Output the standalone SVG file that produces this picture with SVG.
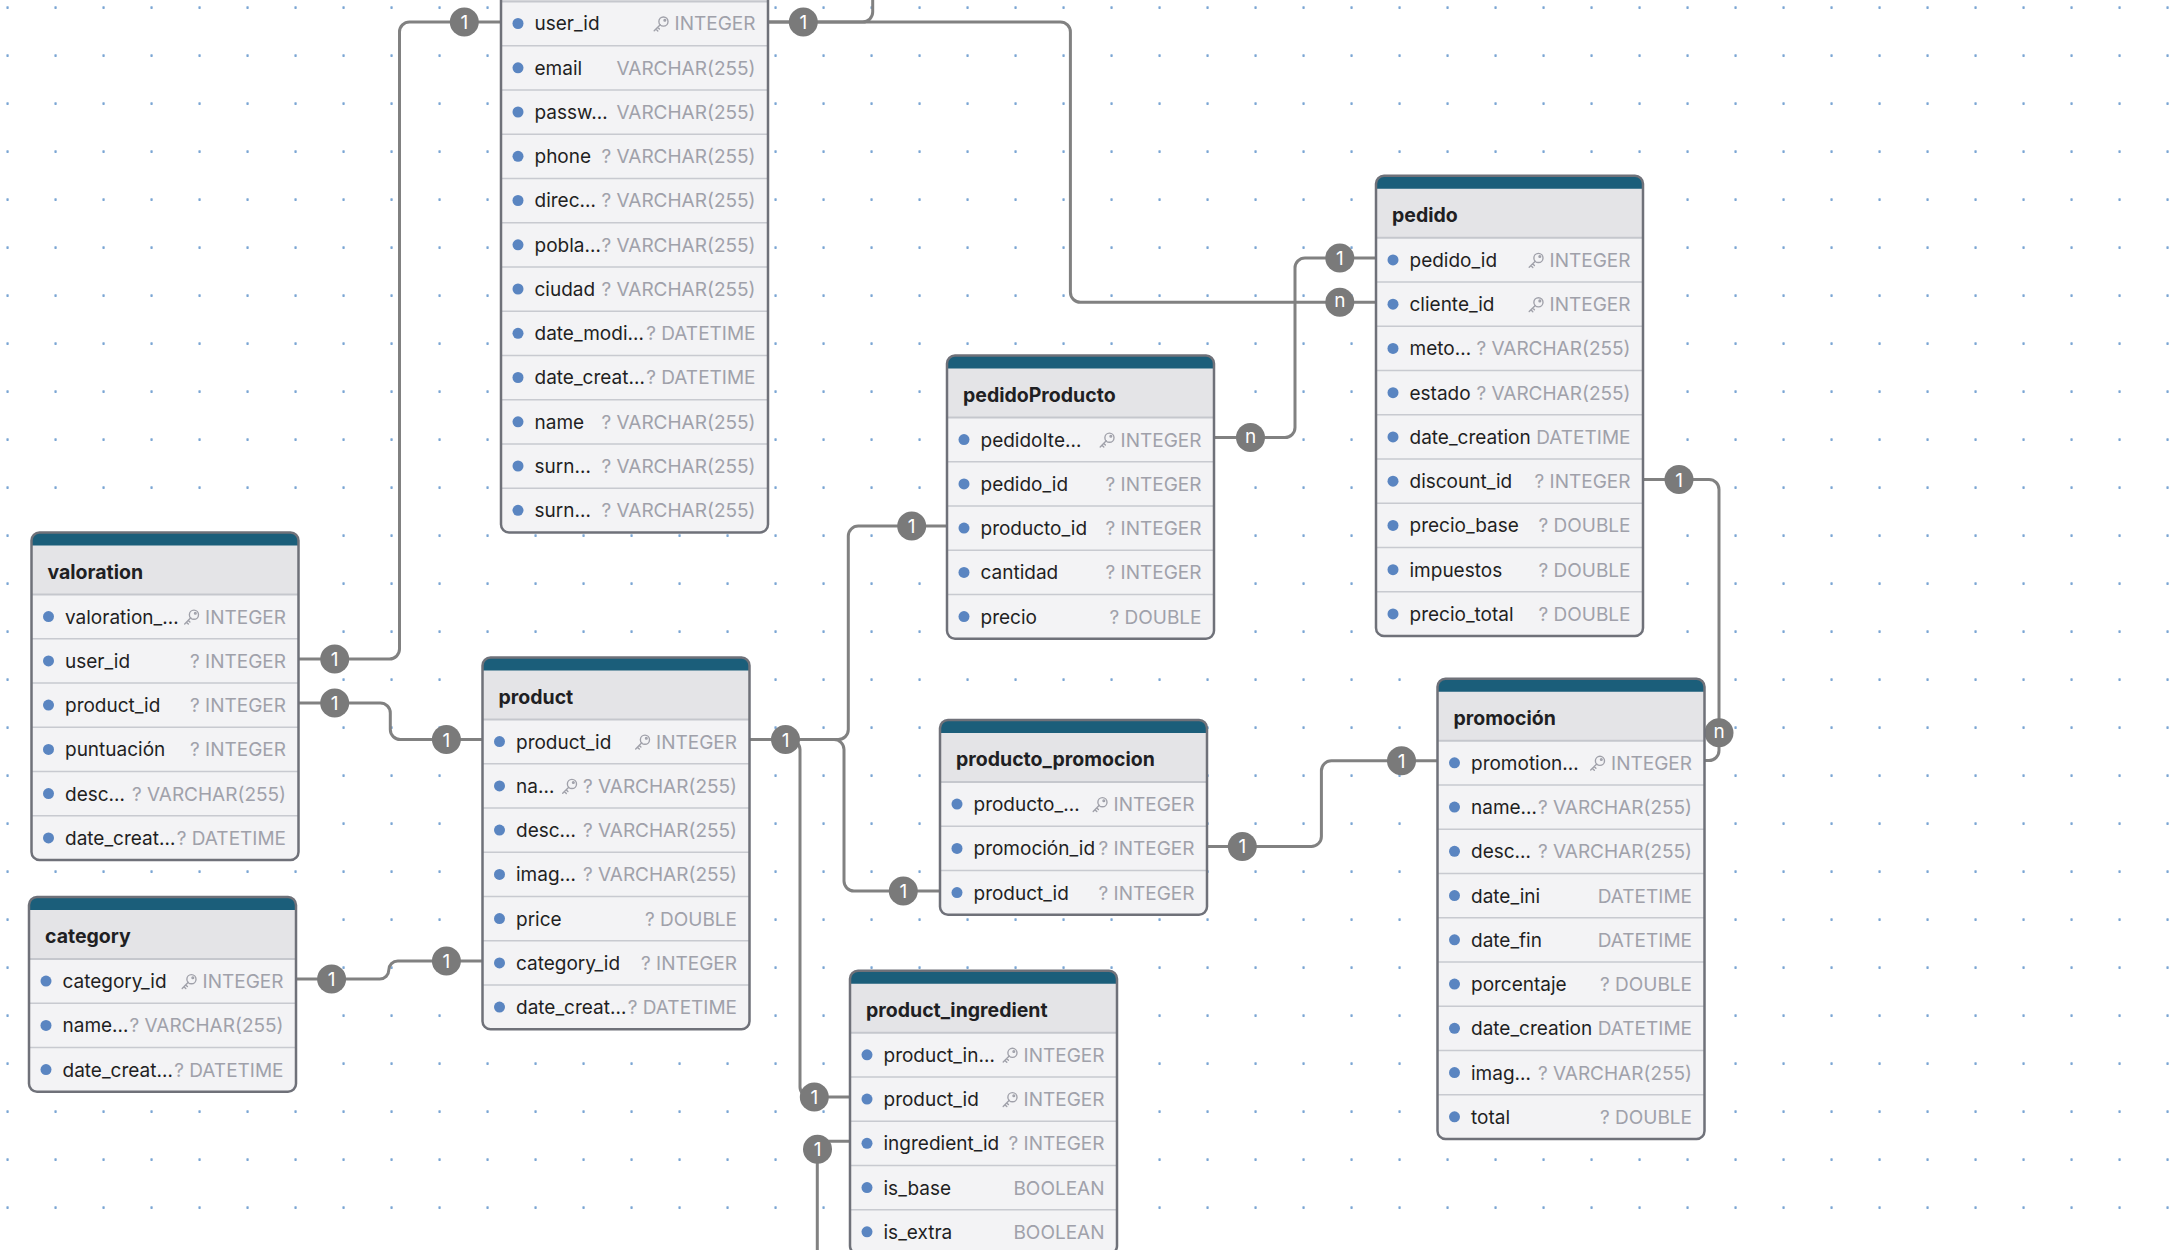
<svg xmlns="http://www.w3.org/2000/svg" xmlns:xlink="http://www.w3.org/1999/xlink" width="2176" height="1250" viewBox="0 0 2176 1250">
<style>
  .body { fill: #f3f3f5; }
  .hdr { fill: #e4e4e7; }
  .bar { fill: #1b5e7a; }
  .sep { stroke: #c8cad0; stroke-width: 1.5; fill: none; }
  .hsep { stroke: #c5c7cd; stroke-width: 2; fill: none; }
  .frame { fill: none; stroke: #6f7179; stroke-width: 2.5; }
  .tt { font: 700 19.5px Inter, "Liberation Sans", sans-serif; fill: #1f1f23; }
  .nm { font: 400 19px Inter, "Liberation Sans", sans-serif; fill: #1f1f23; }
  .ty { font: 400 19px Inter, "Liberation Sans", sans-serif; fill: #a0a1aa; text-anchor: end; }
  .dt { fill: #5a85c1; }
  .link { fill: none; stroke: #818181; stroke-width: 3; }
  .bd circle { fill: #7a7a7a; }
  .bd text { font: 400 19px Inter, "Liberation Sans", sans-serif; fill: #ffffff; text-anchor: middle; }
</style>
<defs>
  <pattern id="dots" width="48" height="48" patternUnits="userSpaceOnUse">
    <rect x="6.4" y="6.2" width="2.3" height="2.7" rx="0.6" fill="#7ba6d4"/>
  </pattern>
  <path id="hdr" class="hdr" d="M0 62V8A8 8 0 0 1 8 0H259A8 8 0 0 1 267 8V62Z"/>
  <path id="bar" class="bar" d="M0 13V8A8 8 0 0 1 8 0H259A8 8 0 0 1 267 8V13Z"/>
  <symbol id="key" viewBox="0 0 16 16" width="17" height="17">
    <g fill="none" stroke="#a0a1aa" stroke-width="1.3" stroke-linecap="round" stroke-linejoin="round">
      <circle cx="10.3" cy="5.7" r="4.3"/>
      <circle cx="11.6" cy="4.4" r="0.8"/>
      <path d="M7.3 8.7L1.6 14.4M3.2 12.8L5 14.6M4.9 11.1L6.5 12.7"/>
    </g>
  </symbol>
</defs>

<rect width="2176" height="1250" fill="#ffffff"/>
<rect width="2176" height="1250" fill="url(#dots)"/>

<!-- relationships -->
<g id="connectors">
  <path class="link" d="M298.5 659H389.5A10 10 0 0 0 399.5 649V32A10 10 0 0 1 409.5 22H501"/>
  <path class="link" d="M768 22H1060.4A10 10 0 0 1 1070.4 32V292.3A10 10 0 0 0 1080.4 302.3H1376"/>
  <path class="link" d="M768 22H862.7A10 10 0 0 0 872.7 12V-10"/>
  <path class="link" d="M1214 437.6H1285A10 10 0 0 0 1295 427.6V267.9A10 10 0 0 1 1305 257.9H1376"/>
  <path class="link" d="M1643 479.5H1709A10 10 0 0 1 1719 489.5V750.5A10 10 0 0 1 1709 760.5H1704.5"/>
  <path class="link" d="M749.5 739.6H838.3A10 10 0 0 0 848.3 729.6V536.1A10 10 0 0 1 858.3 526.1H947"/>
  <path class="link" d="M749.5 739.6H834A10 10 0 0 1 844 749.6V881A10 10 0 0 0 854 891H940"/>
  <path class="link" d="M749.5 739.6H790A10 10 0 0 1 800 749.6V1087A10 10 0 0 0 810 1097H850"/>
  <path class="link" d="M850 1141.3H827.3A10 10 0 0 0 817.3 1151.3V1260"/>
  <path class="link" d="M298.5 703H380.3A10 10 0 0 1 390.3 713V729.6A10 10 0 0 0 400.3 739.6H482.5"/>
  <path class="link" d="M296 979H379.8A9 9 0 0 0 388.8 970A9 9 0 0 1 397.8 961H482.5"/>
  <path class="link" d="M1207 846.4H1311.4A10 10 0 0 0 1321.4 836.4V770.8A10 10 0 0 1 1331.4 760.8H1437.5"/>

  <g class="bd">
    <circle cx="334.7" cy="659" r="14.5"/><text x="334.7" y="666">1</text>
    <circle cx="464.3" cy="22" r="14.5"/><text x="464.3" y="29">1</text>
    <circle cx="803.3" cy="22" r="14.5"/><text x="803.3" y="29">1</text>
    <circle cx="1339.8" cy="302.3" r="14.5"/><text x="1339.8" y="307.3">n</text>
    <circle cx="1250.5" cy="437.6" r="14.5"/><text x="1250.5" y="442.6">n</text>
    <circle cx="1339.8" cy="257.9" r="14.5"/><text x="1339.8" y="264.9">1</text>
    <circle cx="1679" cy="479.5" r="14.5"/><text x="1679" y="486.5">1</text>
    <circle cx="1719" cy="732.7" r="14.5"/><text x="1719" y="737.7">n</text>
    <circle cx="785.5" cy="739.6" r="14.5"/><text x="785.5" y="746.6">1</text>
    <circle cx="911.7" cy="526.1" r="14.5"/><text x="911.7" y="533.1">1</text>
    <circle cx="903.3" cy="891" r="14.5"/><text x="903.3" y="898">1</text>
    <circle cx="814.3" cy="1097" r="14.5"/><text x="814.3" y="1104">1</text>
    <circle cx="817.5" cy="1149.3" r="14.5"/><text x="817.5" y="1156.3">1</text>
    <circle cx="334.7" cy="703" r="14.5"/><text x="334.7" y="710">1</text>
    <circle cx="446.4" cy="739.6" r="14.5"/><text x="446.4" y="746.6">1</text>
    <circle cx="331.6" cy="979" r="14.5"/><text x="331.6" y="986">1</text>
    <circle cx="446.4" cy="961" r="14.5"/><text x="446.4" y="968">1</text>
    <circle cx="1242.3" cy="846.4" r="14.5"/><text x="1242.3" y="853.4">1</text>
    <circle cx="1401.5" cy="760.8" r="14.5"/><text x="1401.5" y="767.8">1</text>
  </g>
</g>

<!-- user table (header above the visible area) -->
<g id="user" transform="translate(501,-60.6)">
  <rect class="body" width="267" height="593" rx="8"/>
  <use href="#hdr"/><use href="#bar"/>
  <path class="hsep" d="M0 62H267"/>
  <path class="sep" d="M0 106.25H267M0 150.5H267M0 194.75H267M0 239H267M0 283.25H267M0 327.5H267M0 371.75H267M0 416H267M0 460.25H267M0 504.5H267M0 548.75H267"/>
  <rect class="frame" width="267" height="593" rx="8"/>
  <circle class="dt" cx="17" cy="84.1" r="5.5"/><text class="nm" x="33.5" y="91.1">user_id</text><use href="#key" x="151.5" y="76.1"/><text class="ty" x="254.5" y="91.1">INTEGER</text>
  <circle class="dt" cx="17" cy="128.4" r="5.5"/><text class="nm" x="33.5" y="135.4">email</text><text class="ty" x="254.5" y="135.4">VARCHAR(255)</text>
  <circle class="dt" cx="17" cy="172.6" r="5.5"/><text class="nm" x="33.5" y="179.6">passw…</text><text class="ty" x="254.5" y="179.6">VARCHAR(255)</text>
  <circle class="dt" cx="17" cy="216.9" r="5.5"/><text class="nm" x="33.5" y="223.9">phone</text><text class="ty" x="254.5" y="223.9">? VARCHAR(255)</text>
  <circle class="dt" cx="17" cy="261.1" r="5.5"/><text class="nm" x="33.5" y="268.1">direc…</text><text class="ty" x="254.5" y="268.1">? VARCHAR(255)</text>
  <circle class="dt" cx="17" cy="305.4" r="5.5"/><text class="nm" x="33.5" y="312.4">pobla…</text><text class="ty" x="254.5" y="312.4">? VARCHAR(255)</text>
  <circle class="dt" cx="17" cy="349.6" r="5.5"/><text class="nm" x="33.5" y="356.6">ciudad</text><text class="ty" x="254.5" y="356.6">? VARCHAR(255)</text>
  <circle class="dt" cx="17" cy="393.9" r="5.5"/><text class="nm" x="33.5" y="400.9">date_modi…</text><text class="ty" x="254.5" y="400.9">? DATETIME</text>
  <circle class="dt" cx="17" cy="438.1" r="5.5"/><text class="nm" x="33.5" y="445.1">date_creat…</text><text class="ty" x="254.5" y="445.1">? DATETIME</text>
  <circle class="dt" cx="17" cy="482.4" r="5.5"/><text class="nm" x="33.5" y="489.4">name</text><text class="ty" x="254.5" y="489.4">? VARCHAR(255)</text>
  <circle class="dt" cx="17" cy="526.6" r="5.5"/><text class="nm" x="33.5" y="533.6">surn…</text><text class="ty" x="254.5" y="533.6">? VARCHAR(255)</text>
  <circle class="dt" cx="17" cy="570.9" r="5.5"/><text class="nm" x="33.5" y="577.9">surn…</text><text class="ty" x="254.5" y="577.9">? VARCHAR(255)</text>
</g>

<g id="valoration" transform="translate(31.5,532.5)">
  <rect class="body" width="267" height="327.5" rx="8"/>
  <use href="#hdr"/><use href="#bar"/>
  <path class="hsep" d="M0 62H267"/>
  <path class="sep" d="M0 106.25H267M0 150.5H267M0 194.75H267M0 239H267M0 283.25H267"/>
  <rect class="frame" width="267" height="327.5" rx="8"/>
  <text class="tt" x="16" y="46">valoration</text>
  <circle class="dt" cx="17" cy="84.1" r="5.5"/><text class="nm" x="33.5" y="91.1">valoration_…</text><use href="#key" x="151.5" y="76.1"/><text class="ty" x="254.5" y="91.1">INTEGER</text>
  <circle class="dt" cx="17" cy="128.4" r="5.5"/><text class="nm" x="33.5" y="135.4">user_id</text><text class="ty" x="254.5" y="135.4">? INTEGER</text>
  <circle class="dt" cx="17" cy="172.6" r="5.5"/><text class="nm" x="33.5" y="179.6">product_id</text><text class="ty" x="254.5" y="179.6">? INTEGER</text>
  <circle class="dt" cx="17" cy="216.9" r="5.5"/><text class="nm" x="33.5" y="223.9">puntuación</text><text class="ty" x="254.5" y="223.9">? INTEGER</text>
  <circle class="dt" cx="17" cy="261.1" r="5.5"/><text class="nm" x="33.5" y="268.1">desc…</text><text class="ty" x="254.5" y="268.1">? VARCHAR(255)</text>
  <circle class="dt" cx="17" cy="305.4" r="5.5"/><text class="nm" x="33.5" y="312.4">date_creat…</text><text class="ty" x="254.5" y="312.4">? DATETIME</text>
</g>

<g id="category" transform="translate(29,897)">
  <rect class="body" width="267" height="194.75" rx="8"/>
  <use href="#hdr"/><use href="#bar"/>
  <path class="hsep" d="M0 62H267"/>
  <path class="sep" d="M0 106.25H267M0 150.5H267"/>
  <rect class="frame" width="267" height="194.75" rx="8"/>
  <text class="tt" x="16" y="46">category</text>
  <circle class="dt" cx="17" cy="84.1" r="5.5"/><text class="nm" x="33.5" y="91.1">category_id</text><use href="#key" x="151.5" y="76.1"/><text class="ty" x="254.5" y="91.1">INTEGER</text>
  <circle class="dt" cx="17" cy="128.4" r="5.5"/><text class="nm" x="33.5" y="135.4">name…</text><text class="ty" x="254.5" y="135.4">? VARCHAR(255)</text>
  <circle class="dt" cx="17" cy="172.6" r="5.5"/><text class="nm" x="33.5" y="179.6">date_creat…</text><text class="ty" x="254.5" y="179.6">? DATETIME</text>
</g>

<g id="product" transform="translate(482.5,657.5)">
  <rect class="body" width="267" height="371.75" rx="8"/>
  <use href="#hdr"/><use href="#bar"/>
  <path class="hsep" d="M0 62H267"/>
  <path class="sep" d="M0 106.25H267M0 150.5H267M0 194.75H267M0 239H267M0 283.25H267M0 327.5H267"/>
  <rect class="frame" width="267" height="371.75" rx="8"/>
  <text class="tt" x="16" y="46">product</text>
  <circle class="dt" cx="17" cy="84.1" r="5.5"/><text class="nm" x="33.5" y="91.1">product_id</text><use href="#key" x="151.5" y="76.1"/><text class="ty" x="254.5" y="91.1">INTEGER</text>
  <circle class="dt" cx="17" cy="128.4" r="5.5"/><text class="nm" x="33.5" y="135.4">na…</text><use href="#key" x="78.5" y="120.4"/><text class="ty" x="254.5" y="135.4">? VARCHAR(255)</text>
  <circle class="dt" cx="17" cy="172.6" r="5.5"/><text class="nm" x="33.5" y="179.6">desc…</text><text class="ty" x="254.5" y="179.6">? VARCHAR(255)</text>
  <circle class="dt" cx="17" cy="216.9" r="5.5"/><text class="nm" x="33.5" y="223.9">imag…</text><text class="ty" x="254.5" y="223.9">? VARCHAR(255)</text>
  <circle class="dt" cx="17" cy="261.1" r="5.5"/><text class="nm" x="33.5" y="268.1">price</text><text class="ty" x="254.5" y="268.1">? DOUBLE</text>
  <circle class="dt" cx="17" cy="305.4" r="5.5"/><text class="nm" x="33.5" y="312.4">category_id</text><text class="ty" x="254.5" y="312.4">? INTEGER</text>
  <circle class="dt" cx="17" cy="349.6" r="5.5"/><text class="nm" x="33.5" y="356.6">date_creat…</text><text class="ty" x="254.5" y="356.6">? DATETIME</text>
</g>

<g id="pedidoProducto" transform="translate(947,355.5)">
  <rect class="body" width="267" height="283.25" rx="8"/>
  <use href="#hdr"/><use href="#bar"/>
  <path class="hsep" d="M0 62H267"/>
  <path class="sep" d="M0 106.25H267M0 150.5H267M0 194.75H267M0 239H267"/>
  <rect class="frame" width="267" height="283.25" rx="8"/>
  <text class="tt" x="16" y="46">pedidoProducto</text>
  <circle class="dt" cx="17" cy="84.1" r="5.5"/><text class="nm" x="33.5" y="91.1">pedidoIte…</text><use href="#key" x="151.5" y="76.1"/><text class="ty" x="254.5" y="91.1">INTEGER</text>
  <circle class="dt" cx="17" cy="128.4" r="5.5"/><text class="nm" x="33.5" y="135.4">pedido_id</text><text class="ty" x="254.5" y="135.4">? INTEGER</text>
  <circle class="dt" cx="17" cy="172.6" r="5.5"/><text class="nm" x="33.5" y="179.6">producto_id</text><text class="ty" x="254.5" y="179.6">? INTEGER</text>
  <circle class="dt" cx="17" cy="216.9" r="5.5"/><text class="nm" x="33.5" y="223.9">cantidad</text><text class="ty" x="254.5" y="223.9">? INTEGER</text>
  <circle class="dt" cx="17" cy="261.1" r="5.5"/><text class="nm" x="33.5" y="268.1">precio</text><text class="ty" x="254.5" y="268.1">? DOUBLE</text>
</g>

<g id="pedido" transform="translate(1376,175.8)">
  <rect class="body" width="267" height="460.25" rx="8"/>
  <use href="#hdr"/><use href="#bar"/>
  <path class="hsep" d="M0 62H267"/>
  <path class="sep" d="M0 106.25H267M0 150.5H267M0 194.75H267M0 239H267M0 283.25H267M0 327.5H267M0 371.75H267M0 416H267"/>
  <rect class="frame" width="267" height="460.25" rx="8"/>
  <text class="tt" x="16" y="46">pedido</text>
  <circle class="dt" cx="17" cy="84.1" r="5.5"/><text class="nm" x="33.5" y="91.1">pedido_id</text><use href="#key" x="151.5" y="76.1"/><text class="ty" x="254.5" y="91.1">INTEGER</text>
  <circle class="dt" cx="17" cy="128.4" r="5.5"/><text class="nm" x="33.5" y="135.4">cliente_id</text><use href="#key" x="151.5" y="120.4"/><text class="ty" x="254.5" y="135.4">INTEGER</text>
  <circle class="dt" cx="17" cy="172.6" r="5.5"/><text class="nm" x="33.5" y="179.6">meto…</text><text class="ty" x="254.5" y="179.6">? VARCHAR(255)</text>
  <circle class="dt" cx="17" cy="216.9" r="5.5"/><text class="nm" x="33.5" y="223.9">estado</text><text class="ty" x="254.5" y="223.9">? VARCHAR(255)</text>
  <circle class="dt" cx="17" cy="261.1" r="5.5"/><text class="nm" x="33.5" y="268.1">date_creation</text><text class="ty" x="254.5" y="268.1">DATETIME</text>
  <circle class="dt" cx="17" cy="305.4" r="5.5"/><text class="nm" x="33.5" y="312.4">discount_id</text><text class="ty" x="254.5" y="312.4">? INTEGER</text>
  <circle class="dt" cx="17" cy="349.6" r="5.5"/><text class="nm" x="33.5" y="356.6">precio_base</text><text class="ty" x="254.5" y="356.6">? DOUBLE</text>
  <circle class="dt" cx="17" cy="393.9" r="5.5"/><text class="nm" x="33.5" y="400.9">impuestos</text><text class="ty" x="254.5" y="400.9">? DOUBLE</text>
  <circle class="dt" cx="17" cy="438.1" r="5.5"/><text class="nm" x="33.5" y="445.1">precio_total</text><text class="ty" x="254.5" y="445.1">? DOUBLE</text>
</g>

<g id="producto_promocion" transform="translate(940,720)">
  <rect class="body" width="267" height="194.75" rx="8"/>
  <use href="#hdr"/><use href="#bar"/>
  <path class="hsep" d="M0 62H267"/>
  <path class="sep" d="M0 106.25H267M0 150.5H267"/>
  <rect class="frame" width="267" height="194.75" rx="8"/>
  <text class="tt" x="16" y="46">producto_promocion</text>
  <circle class="dt" cx="17" cy="84.1" r="5.5"/><text class="nm" x="33.5" y="91.1">producto_…</text><use href="#key" x="151.5" y="76.1"/><text class="ty" x="254.5" y="91.1">INTEGER</text>
  <circle class="dt" cx="17" cy="128.4" r="5.5"/><text class="nm" x="33.5" y="135.4">promoción_id</text><text class="ty" x="254.5" y="135.4">? INTEGER</text>
  <circle class="dt" cx="17" cy="172.6" r="5.5"/><text class="nm" x="33.5" y="179.6">product_id</text><text class="ty" x="254.5" y="179.6">? INTEGER</text>
</g>

<g id="product_ingredient" transform="translate(850,970.7)">
  <rect class="body" width="267" height="283.25" rx="8"/>
  <use href="#hdr"/><use href="#bar"/>
  <path class="hsep" d="M0 62H267"/>
  <path class="sep" d="M0 106.25H267M0 150.5H267M0 194.75H267M0 239H267"/>
  <rect class="frame" width="267" height="283.25" rx="8"/>
  <text class="tt" x="16" y="46">product_ingredient</text>
  <circle class="dt" cx="17" cy="84.1" r="5.5"/><text class="nm" x="33.5" y="91.1">product_in…</text><use href="#key" x="151.5" y="76.1"/><text class="ty" x="254.5" y="91.1">INTEGER</text>
  <circle class="dt" cx="17" cy="128.4" r="5.5"/><text class="nm" x="33.5" y="135.4">product_id</text><use href="#key" x="151.5" y="120.4"/><text class="ty" x="254.5" y="135.4">INTEGER</text>
  <circle class="dt" cx="17" cy="172.6" r="5.5"/><text class="nm" x="33.5" y="179.6">ingredient_id</text><text class="ty" x="254.5" y="179.6">? INTEGER</text>
  <circle class="dt" cx="17" cy="216.9" r="5.5"/><text class="nm" x="33.5" y="223.9">is_base</text><text class="ty" x="254.5" y="223.9">BOOLEAN</text>
  <circle class="dt" cx="17" cy="261.1" r="5.5"/><text class="nm" x="33.5" y="268.1">is_extra</text><text class="ty" x="254.5" y="268.1">BOOLEAN</text>
</g>

<g id="promocion" transform="translate(1437.5,678.7)">
  <rect class="body" width="267" height="460.25" rx="8"/>
  <use href="#hdr"/><use href="#bar"/>
  <path class="hsep" d="M0 62H267"/>
  <path class="sep" d="M0 106.25H267M0 150.5H267M0 194.75H267M0 239H267M0 283.25H267M0 327.5H267M0 371.75H267M0 416H267"/>
  <rect class="frame" width="267" height="460.25" rx="8"/>
  <text class="tt" x="16" y="46">promoción</text>
  <circle class="dt" cx="17" cy="84.1" r="5.5"/><text class="nm" x="33.5" y="91.1">promotion…</text><use href="#key" x="151.5" y="76.1"/><text class="ty" x="254.5" y="91.1">INTEGER</text>
  <circle class="dt" cx="17" cy="128.4" r="5.5"/><text class="nm" x="33.5" y="135.4">name…</text><text class="ty" x="254.5" y="135.4">? VARCHAR(255)</text>
  <circle class="dt" cx="17" cy="172.6" r="5.5"/><text class="nm" x="33.5" y="179.6">desc…</text><text class="ty" x="254.5" y="179.6">? VARCHAR(255)</text>
  <circle class="dt" cx="17" cy="216.9" r="5.5"/><text class="nm" x="33.5" y="223.9">date_ini</text><text class="ty" x="254.5" y="223.9">DATETIME</text>
  <circle class="dt" cx="17" cy="261.1" r="5.5"/><text class="nm" x="33.5" y="268.1">date_fin</text><text class="ty" x="254.5" y="268.1">DATETIME</text>
  <circle class="dt" cx="17" cy="305.4" r="5.5"/><text class="nm" x="33.5" y="312.4">porcentaje</text><text class="ty" x="254.5" y="312.4">? DOUBLE</text>
  <circle class="dt" cx="17" cy="349.6" r="5.5"/><text class="nm" x="33.5" y="356.6">date_creation</text><text class="ty" x="254.5" y="356.6">DATETIME</text>
  <circle class="dt" cx="17" cy="393.9" r="5.5"/><text class="nm" x="33.5" y="400.9">imag…</text><text class="ty" x="254.5" y="400.9">? VARCHAR(255)</text>
  <circle class="dt" cx="17" cy="438.1" r="5.5"/><text class="nm" x="33.5" y="445.1">total</text><text class="ty" x="254.5" y="445.1">? DOUBLE</text>
</g>
</svg>
